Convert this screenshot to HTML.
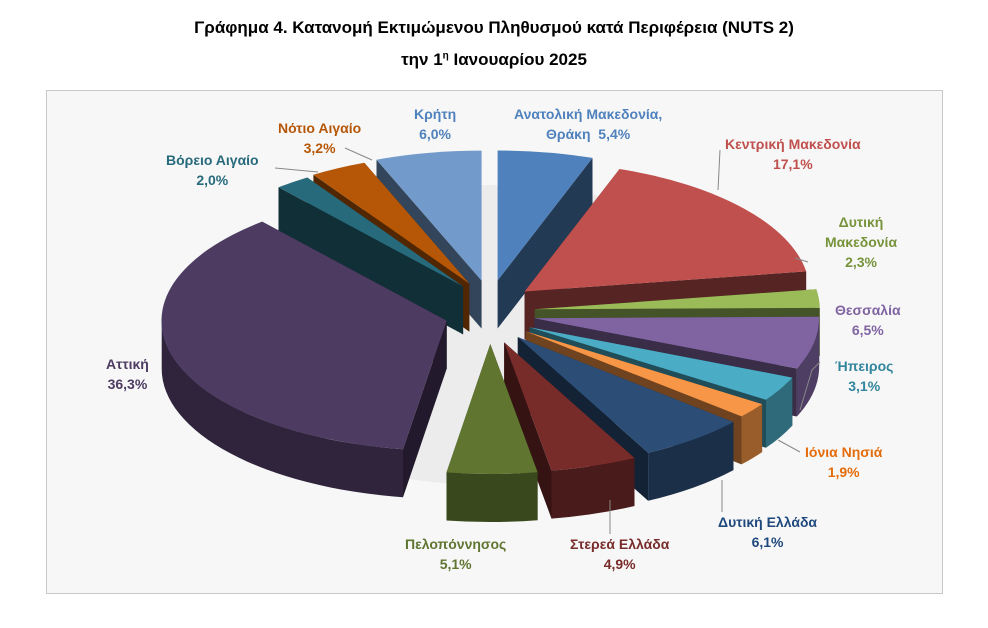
<!DOCTYPE html>
<html><head><meta charset="utf-8"><style>
body{margin:0;background:#fff;width:988px;height:628px;overflow:hidden;font-family:"Liberation Sans",sans-serif}
.t{position:absolute;left:0;width:988px;text-align:center;font-weight:bold;font-size:17px;color:#000}
#box{position:absolute;left:46px;top:90px;width:895px;height:502px;border:1px solid #c8c8c8;background:#f7f7f7}
.l{position:absolute;font-size:14px;font-weight:bold;text-align:center;line-height:20px;font-family:"Liberation Sans Narrow","Liberation Sans",sans-serif}
</style></head><body>
<div class="t" style="top:18px">Γράφημα 4. Κατανομή Εκτιμώμενου Πληθυσμού κατά Περιφέρεια (NUTS 2)</div>
<div class="t" style="top:50px">την 1<sup style="font-size:10px">η</sup> Ιανουαρίου 2025</div>
<div id="box"></div>
<svg id="s" width="988" height="628" style="position:absolute;left:0;top:0"></svg>
<div class="l" style="left:514px;top:104px;color:#4F81BD">Ανατολική Μακεδονία,<br>Θράκη&nbsp; 5,4%</div>
<div class="l" style="left:725px;top:134px;color:#C0504D">Κεντρική Μακεδονία<br>17,1%</div>
<div class="l" style="left:825px;top:212px;color:#77933C">Δυτική<br>Μακεδονία<br>2,3%</div>
<div class="l" style="left:835px;top:300px;color:#8064A2">Θεσσαλία<br>6,5%</div>
<div class="l" style="left:835px;top:356px;color:#31859C">Ήπειρος<br>3,1%</div>
<div class="l" style="left:805px;top:442px;color:#E46C0A">Ιόνια Νησιά<br>1,9%</div>
<div class="l" style="left:718px;top:512px;color:#1F497D">Δυτική Ελλάδα<br>6,1%</div>
<div class="l" style="left:570px;top:534px;color:#772C2A">Στερεά Ελλάδα<br>4,9%</div>
<div class="l" style="left:405px;top:534px;color:#5F7530">Πελοπόννησος<br>5,1%</div>
<div class="l" style="left:106px;top:354px;color:#4D3B62">Αττική<br>36,3%</div>
<div class="l" style="left:166px;top:150px;color:#276A7C">Βόρειο Αιγαίο<br>2,0%</div>
<div class="l" style="left:278px;top:118px;color:#B65708">Νότιο Αιγαίο<br>3,2%</div>
<div class="l" style="left:414px;top:104px;color:#4F81BD">Κρήτη<br>6,0%</div>
<script>
const D=[[5.4,'#4F81BD'],[17.1,'#C0504D'],[2.3,'#9BBB59'],[6.5,'#8064A2'],[3.1,'#4BACC6'],[1.9,'#F79646'],[6.1,'#2C4D75'],[4.9,'#772C2A'],[5.1,'#5F7530'],[36.3,'#4D3B62'],[2.0,'#276A7C'],[3.2,'#B65708'],[6.0,'#729ACA']];
const cx=490,cy=312,rx=285,ry=130,d=48,ex=45,ey=32;
function dk(c,f){let n=parseInt(c.slice(1),16);let r=(n>>16)*f|0,g=((n>>8)&255)*f|0,b=(n&255)*f|0;return `rgb(${r},${g},${b})`}
let tot=D.reduce((a,b)=>a+b[0],0),acc=0,sl=[];
D.forEach(([v,c])=>{let a1=acc/tot*2*Math.PI;acc+=v;let a2=acc/tot*2*Math.PI;let m=(a1+a2)/2;sl.push({a1,a2,m,c,ox:ex*Math.sin(m),oy:-ey*Math.cos(m)})});
let out='<ellipse cx="490" cy="335" rx="290" ry="150" fill="#ececec"/>';
sl.sort((p,q)=>(-Math.cos(p.m))-(-Math.cos(q.m)));
sl.forEach(s=>{
 const P=(t,dy=0)=>[(cx+s.ox+rx*Math.sin(t)).toFixed(1),(cy+s.oy-ry*Math.cos(t)+dy).toFixed(1)].join(',');
 const C=(dy=0)=>[(cx+s.ox).toFixed(1),(cy+s.oy+dy).toFixed(1)].join(',');
 const la=(s.a2-s.a1)>Math.PI?1:0;
 const side=dk(s.c,0.62),side2=dk(s.c,0.45);
 [s.a1,s.a2].forEach(a=>{out+=`<polygon points="${C()} ${P(a)} ${P(a,d)} ${C(d)}" fill="${side2}"/>`});
 let st=Math.max(s.a1,Math.PI/2),en=Math.min(s.a2,3*Math.PI/2);
 if(st<en){let l2=(en-st)>Math.PI?1:0;out+=`<path d="M${P(st)} A${rx},${ry} 0 ${l2} 1 ${P(en)} L${P(en,d)} A${rx},${ry} 0 ${l2} 0 ${P(st,d)} Z" fill="${side}"/>`}
 out+=`<path d="M${C()} L${P(s.a1)} A${rx},${ry} 0 ${la} 1 ${P(s.a2)} Z" fill="${s.c}"/>`;
});
out+='<g stroke="#888" fill="none" stroke-width="1"><polyline points="720,150 718,190"/><polyline points="275,168 318,172"/><polyline points="345,148 372,160"/><polyline points="795,258 808,262"/><polyline points="820,362 812,370 800,410"/><polyline points="800,452 778,440"/><polyline points="722,512 722,480"/><polyline points="610,534 610,500"/></g>';
document.getElementById('s').innerHTML=out;
</script>
</body></html>
